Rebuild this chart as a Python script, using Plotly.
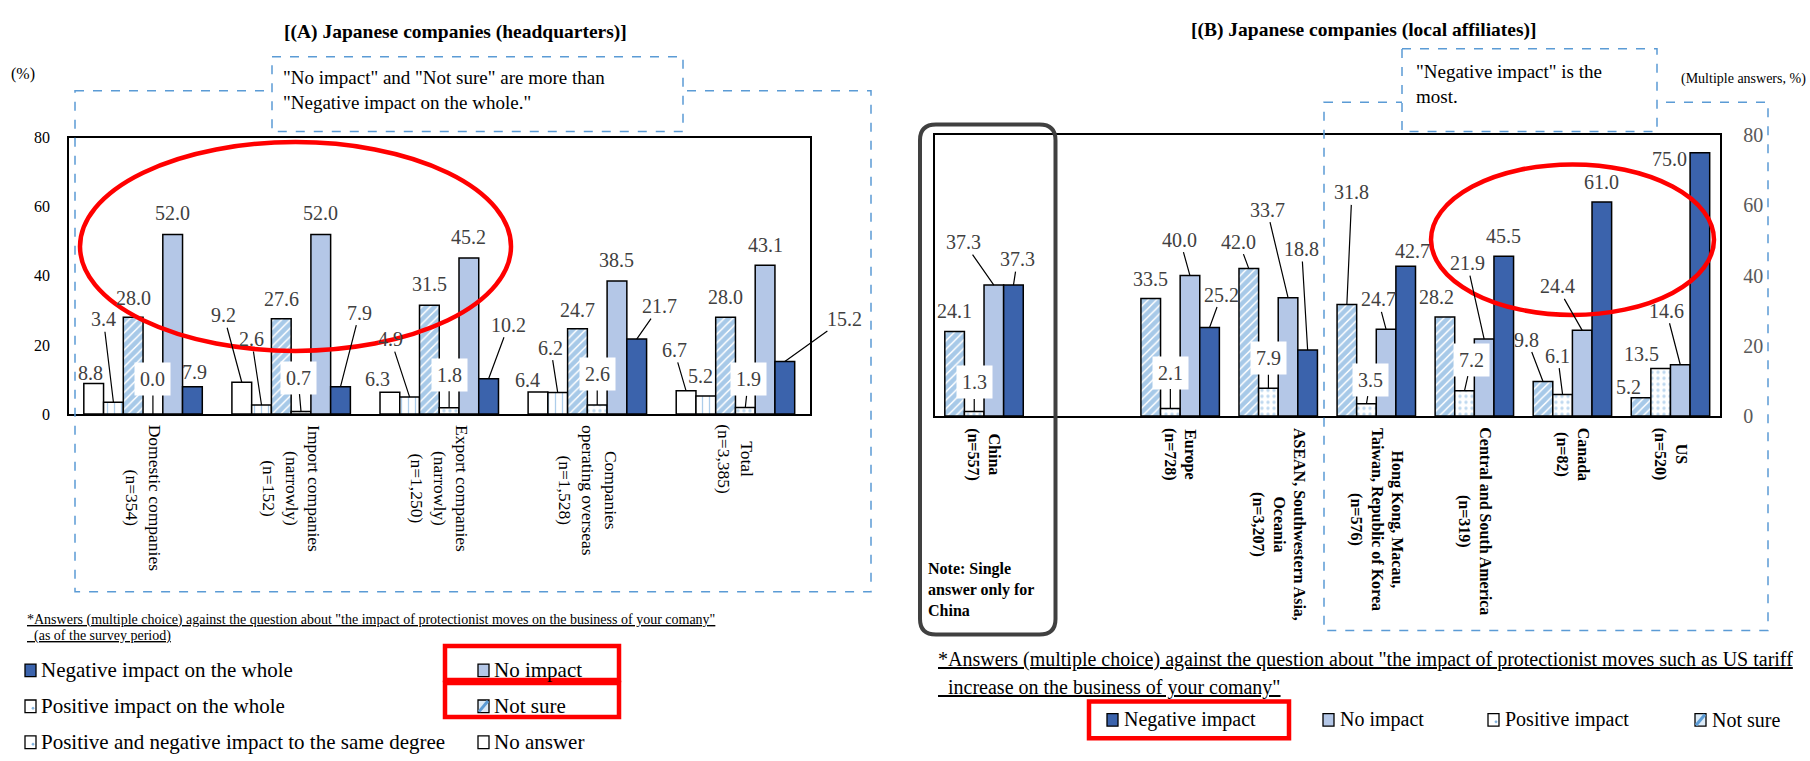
import plotly.graph_objects as go

W, H = 1810, 761
SERIF = "'Liberation Serif', 'Times New Roman', Times, serif"

# ---------------- (A) headquarters survey ----------------
hq_labels = [
    "Domestic companies<br>(n=354)",
    "Import companies<br>(narrowly)<br>(n=152)",
    "Export companies<br>(narrowly)<br>(n=1,250)",
    "Companies<br>operating overseas<br>(n=1,528)",
    "Total<br>(n=3,385)",
]
hq_no_answer = [8.8, 9.2, 6.3, 6.4, 6.7]
hq_same_degree = [3.4, 2.6, 4.9, 6.2, 5.2]
hq_not_sure = [28.0, 27.6, 31.5, 24.7, 28.0]
hq_positive = [0.0, 0.7, 1.8, 2.6, 1.9]
hq_no_impact = [52.0, 52.0, 45.2, 38.5, 43.1]
hq_negative = [7.9, 7.9, 10.2, 21.7, 15.2]

# ---------------- (B) local affiliates survey ----------------
aff_labels = [
    "China<br>(n=557)",
    "Europe<br>(n=728)",
    "ASEAN, Southwestern Asia,<br>Oceania<br>(n=3,207)",
    "Hong Kong, Macau,<br>Taiwan, Republic of Korea<br>(n=576)",
    "Central and South America<br>(n=319)",
    "Canada<br>(n=82)",
    "US<br>(n=520)",
]
aff_not_sure = [24.1, 33.5, 42.0, 31.8, 28.2, 9.8, 5.2]
aff_positive = [1.3, 2.1, 7.9, 3.5, 7.2, 6.1, 13.5]
aff_no_impact = [37.3, 40.0, 33.7, 24.7, 21.9, 24.4, 14.6]
aff_negative = [37.3, 25.2, 18.8, 42.7, 45.5, 61.0, 75.0]

y_ticks = [0, 20, 40, 60, 80]

# ---------------- styles ----------------
DARK = "#3B63AC"
LIGHT = "#B4C7E7"
HATCH = "#5B9BD5"
DOT = "#7FB2E0"
OUTLINE = dict(color="black", width=1.5)
BARGAP = 0.2

STYLE = {
    "no_answer": dict(color="white", line=OUTLINE),
    "same_degree": dict(color="white", line=OUTLINE,
                        pattern=dict(shape="|", fgcolor=HATCH, size=7, solidity=0.18)),
    "not_sure": dict(color="white", line=OUTLINE,
                     pattern=dict(shape="/", fgcolor="#4F93D2", size=6, solidity=0.75)),
    "positive": dict(color="white", line=OUTLINE,
                     pattern=dict(shape=".", fgcolor=DOT, size=6, solidity=0.25)),
    "no_impact": dict(color=LIGHT, line=OUTLINE),
    "negative": dict(color=DARK, line=OUTLINE),
}


def px_x(v):
    return v / W


def px_y(v):
    return 1 - v / H


fig = go.Figure()

hq_series = [
    ("no_answer", "No answer", hq_no_answer),
    ("same_degree", "Positive and negative impact to the same degree", hq_same_degree),
    ("not_sure", "Not sure", hq_not_sure),
    ("positive", "Positive impact on the whole", hq_positive),
    ("no_impact", "No impact", hq_no_impact),
    ("negative", "Negative impact on the whole", hq_negative),
]
for key, name, vals in hq_series:
    fig.add_trace(go.Bar(x=hq_labels, y=vals, name=name, marker=STYLE[key],
                         xaxis="x", yaxis="y", showlegend=False))

aff_series = [
    ("not_sure", "Not sure", aff_not_sure),
    ("positive", "Positive impact", aff_positive),
    ("no_impact", "No impact", aff_no_impact),
    ("negative", "Negative impact", aff_negative),
]
for key, name, vals in aff_series:
    fig.add_trace(go.Bar(x=aff_labels, y=vals, name=name, marker=STYLE[key],
                         xaxis="x2", yaxis="y2", showlegend=False))

# category slots of panel B: an empty slot follows China
aff_slots = [aff_labels[0], " "] + aff_labels[1:]


def bar_center(slot, i, n):
    span = 1 - BARGAP
    return slot - span / 2 + (i + 0.5) * span / n


# label placement: (dx, dy, leader line, white box) in pixels from the bar top
hq_label_pos = [
    [(-3, -11, 0, 0), (-10, -83, 1, 0), (0, -19, 0, 0), (0, -35, 1, 1), (0, -21, 0, 0), (2, -15, 0, 0)],
    [(-18, -67, 1, 0), (-10, -66, 1, 0), (0, -20, 0, 0), (-3, -34, 1, 1), (0, -21, 0, 0), (19, -74, 1, 0)],
    [(-12, -13, 0, 0), (-19, -58, 1, 0), (0, -21, 0, 0), (0, -33, 1, 1), (0, -21, 0, 0), (20, -54, 1, 0)],
    [(-10, -12, 0, 0), (-7, -45, 1, 0), (0, -19, 0, 0), (0, -31, 1, 1), (0, -21, 0, 0), (23, -33, 1, 0)],
    [(-12, -41, 1, 0), (-5, -20, 0, 0), (0, -20, 0, 0), (3, -28, 1, 1), (0, -20, 0, 0), (60, -43, 1, 0)],
]
aff_label_pos = [
    [(0, -20, 0, 0), (0, -29, 1, 1), (-30, -43, 1, 0), (4, -26, 1, 0)],
    [(0, -19, 0, 0), (0, -36, 1, 1), (-10, -36, 1, 0), (12, -33, 1, 0)],
    [(-10, -27, 1, 0), (0, -30, 1, 1), (-21, -88, 1, 0), (-6, -101, 1, 0)],
    [(5, -112, 1, 0), (4, -24, 1, 1), (-8, -30, 1, 0), (7, -15, 0, 0)],
    [(-8, -20, 0, 0), (7, -31, 1, 1), (-17, -76, 1, 0), (0, -20, 0, 0)],
    [(-16, -42, 1, 0), (-5, -39, 1, 0), (-25, -44, 1, 0), (0, -20, 0, 0)],
    [(-13, -11, 0, 0), (-19, -15, 0, 0), (-14, -54, 1, 0), (-30, 6, 0, 0)],
]

annotations = []


def value_label(xref, yref, x, y, pos):
    dx, dy, line, box = pos
    return dict(
        xref=xref, yref=yref, x=x, y=y, text=f"{y:.1f}",
        showarrow=True, arrowhead=0, arrowwidth=1.2, standoff=0,
        arrowcolor="black" if line else "rgba(0,0,0,0)",
        ax=dx, ay=dy,
        font=dict(family=SERIF, size=20, color="#404040"),
        bgcolor="white" if box else "rgba(0,0,0,0)",
        borderpad=5 if box else 1,
    )


for ci in range(len(hq_labels)):
    for si, (_, _, vals) in enumerate(hq_series):
        annotations.append(value_label("x", "y", bar_center(ci, si, len(hq_series)),
                                       vals[ci], hq_label_pos[ci][si]))

for ci, lab in enumerate(aff_labels):
    slot = aff_slots.index(lab)
    for si, (_, _, vals) in enumerate(aff_series):
        annotations.append(value_label("x2", "y2", bar_center(slot, si, len(aff_series)),
                                       vals[ci], aff_label_pos[ci][si]))

# rotated category labels
for lab in hq_labels:
    annotations.append(dict(xref="x", yref="paper", x=lab, y=px_y(424), text=lab,
                            textangle=90, showarrow=False, xanchor="center", yanchor="top",
                            align="center", font=dict(family=SERIF, size=17.5, color="black")))
for lab in aff_labels:
    annotations.append(dict(xref="x2", yref="paper", x=lab, y=px_y(427), text=f"<b>{lab}</b>",
                            textangle=90, showarrow=False, xanchor="center", yanchor="top",
                            align="center", font=dict(family=SERIF, size=16, color="black")))


def text(x, y, s, size, xanchor="left", yanchor="middle", color="black", align="left"):
    annotations.append(dict(xref="paper", yref="paper", x=px_x(x), y=px_y(y), text=s,
                            showarrow=False, xanchor=xanchor, yanchor=yanchor, align=align,
                            font=dict(family=SERIF, size=size, color=color)))


# titles and notes
text(455, 22, "<b>[(A) Japanese companies (headquarters)]</b>", 19.5, xanchor="center")
text(1364, 20, "<b>[(B) Japanese companies (local affiliates)]</b>", 19.5, xanchor="center")
text(23, 65, "(%)", 16, xanchor="center")
text(1743, 70, "(Multiple answers, %)", 14, xanchor="center")
text(281, 81, "\"No impact\" and \"Not sure\" are more than<br>\"Negative impact on the whole.\"", 19,
     yanchor="middle")
text(1414, 75, "\"Negative impact\" is the<br>most.", 19, yanchor="middle")
text(926, 596, "<b>Note: Single<br>answer only for<br>China</b>", 16)

text(25, 627, "<u>*Answers (multiple choice) against the question about \"the impact of protectionist "
              "moves on the business of your comany\"</u>", 14)
text(25, 644, "<u>  (as of the survey period)</u>", 14)
text(936, 668, "<u>*Answers (multiple choice) against the question about \"the impact of protectionist "
               "moves such as US tariff</u>", 20)
text(936, 697, "<u>  increase on the business of your comany\"</u>", 20)

shapes = []


def rect(x0, y0, x1, y1, line_color, width=1.5, dash=None, fill=None):
    shapes.append(dict(type="rect", xref="paper", yref="paper",
                       x0=px_x(x0), x1=px_x(x1), y0=px_y(y0), y1=px_y(y1),
                       line=dict(color=line_color, width=width, dash=dash),
                       fillcolor=fill if fill else "rgba(0,0,0,0)"))


# legend swatches and texts
legend_a = [
    (25, 679, "negative", "Negative impact on the whole"),
    (25, 716, "positive", "Positive impact on the whole"),
    (25, 753, "same_degree", "Positive and negative impact to the same degree"),
    (478, 679, "no_impact", "No impact"),
    (478, 716, "not_sure", "Not sure"),
    (478, 753, "no_answer", "No answer"),
]
legend_b = [
    (1107, 730, "negative", "Negative impact"),
    (1323, 730, "no_impact", "No impact"),
    (1488, 730, "positive", "Positive impact"),
    (1695, 730, "not_sure", "Not sure"),
]
SWATCH_FILL = {"negative": DARK, "no_impact": LIGHT, "not_sure": "#DDEBF7",
               "positive": "white", "same_degree": "white", "no_answer": "white"}


def swatch(x, yc, key):
    rect(x, yc - 6.5, x + 11, yc + 6.5, "black", width=1.3, fill=SWATCH_FILL[key])
    if key == "not_sure":
        shapes.append(dict(type="line", xref="paper", yref="paper",
                           x0=px_x(x + 1), y0=px_y(yc + 5.5), x1=px_x(x + 10), y1=px_y(yc - 5.5),
                           line=dict(color=HATCH, width=3)))
    if key in ("positive", "same_degree"):
        shapes.append(dict(type="circle", xref="paper", yref="paper",
                           x0=px_x(x + 7), y0=px_y(yc + 3), x1=px_x(x + 9), y1=px_y(yc + 1),
                           line=dict(color=DOT, width=1), fillcolor=DOT))


for x, yc, key, name in legend_a:
    swatch(x, yc, key)
    text(x + 14, yc, name, 21)
for x, yc, key, name in legend_b:
    swatch(x, yc, key)
    text(x + 15, yc, name, 20)

# dashed call-out frames
DASH_BLUE = "#5B9BD5"
rect(75, 82, 871, 598, DASH_BLUE, dash="dash")
rect(272, 47, 683, 124, DASH_BLUE, dash="dash", fill="white")
rect(1324, 94, 1768, 638, DASH_BLUE, dash="dash")
rect(1402, 39, 1657, 124, DASH_BLUE, dash="dash", fill="white")

# red highlights
RED = "#FF0000"
shapes.append(dict(type="circle", xref="paper", yref="paper",
                   x0=px_x(80), x1=px_x(511), y0=px_y(135), y1=px_y(350),
                   line=dict(color=RED, width=4.5)))
shapes.append(dict(type="circle", xref="paper", yref="paper",
                   x0=px_x(1431), x1=px_x(1714), y0=px_y(158), y1=px_y(313),
                   line=dict(color=RED, width=4.5)))
rect(445, 654, 619, 689, RED, width=4.5)
rect(445, 692, 619, 727, RED, width=4.5)
rect(1089, 711, 1289, 749, RED, width=4.5)

# rounded frame around China
x0, y0, x1, y1, r = 920, 117, 1055.5, 642, 16


def P(x, y):
    return f"{px_x(x):.6f},{px_y(y):.6f}"


path = (f"M {P(x0 + r, y0)} L {P(x1 - r, y0)} Q {P(x1, y0)} {P(x1, y0 + r)} "
        f"L {P(x1, y1 - r)} Q {P(x1, y1)} {P(x1 - r, y1)} "
        f"L {P(x0 + r, y1)} Q {P(x0, y1)} {P(x0, y1 - r)} "
        f"L {P(x0, y0 + r)} Q {P(x0, y0)} {P(x0 + r, y0)} Z")
shapes.append(dict(type="path", xref="paper", yref="paper", path=path,
                   line=dict(color="#404040", width=4)))

axis_frame = dict(showline=True, mirror=True, linecolor="black", linewidth=1.5,
                  showgrid=False, zeroline=False, ticks="")

fig.update_layout(
    width=W, height=H, margin=dict(l=0, r=0, t=0, b=0),
    paper_bgcolor="white", plot_bgcolor="white",
    font=dict(family=SERIF),
    barmode="group", bargap=BARGAP, bargroupgap=0,
    xaxis=dict(domain=[px_x(69), px_x(809.5)], anchor="y", type="category",
               categoryorder="array", categoryarray=hq_labels, range=[-0.5, 4.5],
               showticklabels=False, **axis_frame),
    yaxis=dict(domain=[px_y(415), px_y(130.5)], anchor="x", range=[0, 80],
               tickvals=y_ticks, ticklabelstandoff=14,
               tickfont=dict(family=SERIF, size=16, color="black"), **axis_frame),
    xaxis2=dict(domain=[px_x(935), px_x(1719.5)], anchor="y2", type="category",
                categoryorder="array", categoryarray=aff_slots, range=[-0.5, 7.5],
                showticklabels=False, **axis_frame),
    yaxis2=dict(domain=[px_y(417), px_y(128)], anchor="x2", side="right", range=[0, 80],
                tickvals=y_ticks, ticklabelstandoff=18,
                tickfont=dict(family=SERIF, size=20, color="#595959"), **axis_frame),
    annotations=annotations,
    shapes=shapes,
)

fig.write_html("out.html")
